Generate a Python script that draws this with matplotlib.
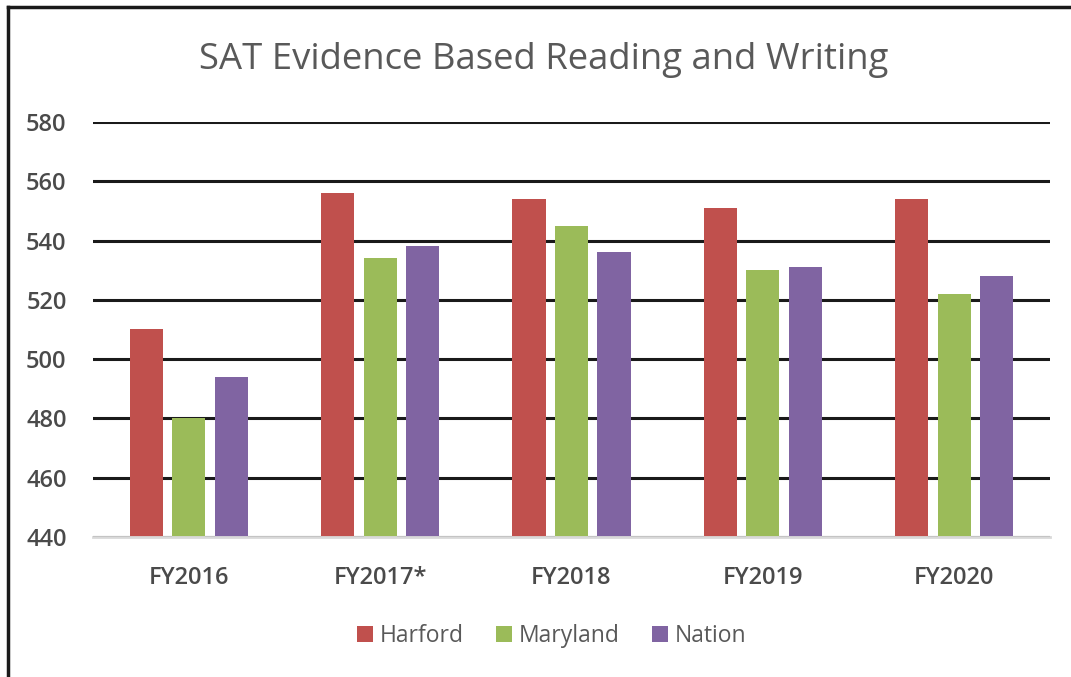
import numpy as np
import matplotlib.pyplot as plt
from matplotlib.lines import Line2D

# data
years = ['FY2016', 'FY2017*', 'FY2018', 'FY2019', 'FY2020']
harford = [510, 556, 554, 551, 554]
maryland = [480, 534, 545, 530, 522]
nation = [494, 538, 536, 531, 528]
series_names = ['Harford', 'Maryland', 'Nation']
colors = ['#C0504D', '#9BBB59', '#8064A2']

plt.rcParams['font.family'] = ['Open Sans', 'DejaVu Sans']

fig = plt.figure(figsize=(10.71, 6.77), dpi=100)
ax = fig.add_axes([0.0868, 0.2068, 0.8936, 0.613])

x = np.arange(len(years))
w = 0.173
step = 0.222
for i, (vals, name) in enumerate(zip([harford, maryland, nation], series_names)):
    ax.bar(x + (i - 1) * step, np.array(vals) - 440, w, bottom=440,
           color=colors[i], label=name, zorder=3)

ax.set_xlim(-0.5, len(years) - 0.5)
ax.set_ylim(440, 580)
ax.set_yticks(range(440, 581, 20))
ax.set_xticks(x)
ax.set_xticklabels(years)
ax.grid(axis='y', color='#1a1a1a', linewidth=2.2, zorder=0)
for s in ['top', 'right', 'left']:
    ax.spines[s].set_visible(False)
ax.spines['bottom'].set_color('#d9d9d9')
ax.spines['bottom'].set_linewidth(2)
ax.spines['bottom'].set_zorder(4)
ax.tick_params(axis='both', length=0, labelsize=17, labelcolor='#4a4a4a')
ax.tick_params(axis='y', pad=19)
ax.tick_params(axis='x', pad=21)
for lab in ax.get_xticklabels() + ax.get_yticklabels():
    lab.set_fontweight('semibold')

fig.text(0.508, 0.912, 'SAT Evidence Based Reading and Writing', ha='center',
         va='center', fontsize=26.3, color='#595959')

leg = fig.legend(loc='center', bbox_to_anchor=(0.515, 0.06), ncol=3, frameon=False,
                 fontsize=16.5, handlelength=0.7, handleheight=0.7,
                 handletextpad=0.3, columnspacing=1.4)
for t in leg.get_texts():
    t.set_color('#595959')

# frame around the picture (top and left edges)
fig.add_artist(Line2D([0.0075, 1.0], [0.9897, 0.9897], color='#1a1a1a', lw=2.5))
fig.add_artist(Line2D([0.0075, 0.0075], [0.0, 0.9897], color='#1a1a1a', lw=2.5))

fig.savefig('out.png', dpi=100)
